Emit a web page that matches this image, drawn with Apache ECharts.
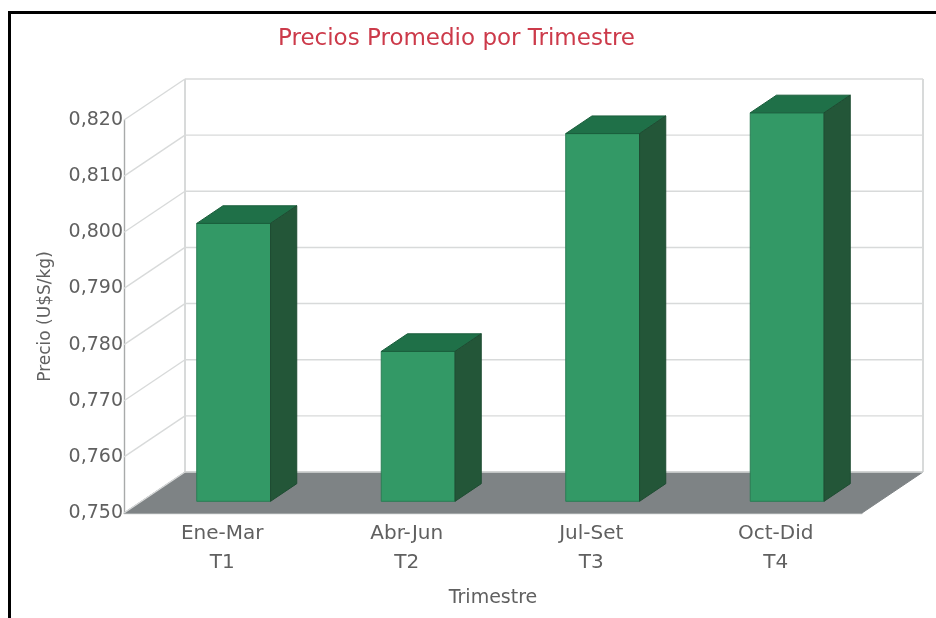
<!DOCTYPE html>
<html>
<head>
<meta charset="utf-8">
<style>html,body{margin:0;padding:0;background:#fff}#chart{width:936px;height:618px}</style>
<script src="https://cdn.jsdelivr.net/npm/echarts@6/dist/echarts.min.js"></script>
</head>
<body>
<div id="chart"></div>
<script>
// Average price per quarter, drawn as pseudo-3D columns on a value axis
const periods = ['Ene-Mar', 'Abr-Jun', 'Jul-Set', 'Oct-Did'];
const quarters = ['T1', 'T2', 'T3', 'T4'];
const prices = [0.7995, 0.7767, 0.8155, 0.8192];
const gridValues = [0.75, 0.76, 0.77, 0.78, 0.79, 0.80, 0.81, 0.82];

// Oblique projection of the chart box depth, in pixels
const DEPTH_X = 61;
const DEPTH_Y = -41;
const BAR_NEAR = 0.285;
const BAR_FAR = 0.715;

const FONT = '"DejaVu Sans", "Liberation Sans", Arial, sans-serif';
const TEXT = '#606060';
const GRID = '#d8dada';

const chart = echarts.init(document.getElementById('chart'), null, { renderer: 'canvas' });

function poly(points, fill, stroke) {
  return {
    type: 'polygon',
    shape: { points },
    style: { fill, stroke: stroke || fill, lineWidth: 1, lineJoin: 'round' }
  };
}
function seg(x1, y1, x2, y2, color) {
  return { type: 'line', shape: { x1, y1, x2, y2 }, style: { stroke: color, lineWidth: 1.4 } };
}

// Side and back wall rules for one value of the axis
function renderWallRule(params, api) {
  const cs = params.coordSys;
  const y = api.coord([0, api.value(1)])[1];
  const left = cs.x, backL = left + DEPTH_X, backR = left + cs.width + DEPTH_X;
  return {
    type: 'group',
    children: [
      seg(left, y, backL, y + DEPTH_Y, GRID),
      seg(backL, y + DEPTH_Y, backR, y + DEPTH_Y, GRID)
    ]
  };
}

// Back wall verticals and the grey floor of the box
function renderBox(params) {
  const cs = params.coordSys;
  const l = cs.x, r = cs.x + cs.width, t = cs.y, b = cs.y + cs.height;
  return {
    type: 'group',
    children: [
      seg(l + DEPTH_X, t + DEPTH_Y, l + DEPTH_X, b + DEPTH_Y, '#c8cacb'),
      seg(r + DEPTH_X, t + DEPTH_Y, r + DEPTH_X, b + DEPTH_Y, '#c8cacb'),
      poly([[l, b], [r, b], [r + DEPTH_X, b + DEPTH_Y], [l + DEPTH_X, b + DEPTH_Y]], '#7e8385')
    ]
  };
}

// One column: front, top and side faces set back into the box depth
function renderColumn(params, api) {
  const top = api.coord([api.value(0), api.value(1)]);
  const base = api.coord([api.value(0), gridValues[0]]);
  const w = api.size([1, 0])[0] * 0.4;
  const nx = DEPTH_X * BAR_NEAR, ny = DEPTH_Y * BAR_NEAR;
  const fx = DEPTH_X * (BAR_FAR - BAR_NEAR), fy = DEPTH_Y * (BAR_FAR - BAR_NEAR);
  const x0 = top[0] - w / 2 + nx, x1 = x0 + w;
  const yT = top[1] + ny, yB = base[1] + ny;
  return {
    type: 'group',
    children: [
      poly([[x0, yB], [x1, yB], [x1, yT], [x0, yT]], '#339966', '#2a7d55'),
      poly([[x0, yT], [x1, yT], [x1 + fx, yT + fy], [x0 + fx, yT + fy]], '#1f7048', '#1a5e3c'),
      poly([[x1, yB], [x1 + fx, yB + fy], [x1 + fx, yT + fy], [x1, yT]], '#235638', '#1e4c32')
    ]
  };
}

chart.setOption({
  animation: false,
  backgroundColor: '#ffffff',
  title: {
    text: 'Precios Promedio por Trimestre',
    left: 273,
    top: 23,
    textStyle: { fontFamily: FONT, fontSize: 23, fontWeight: 'normal', color: '#cc3a4a' }
  },
  grid: { left: 124, right: 74, top: 120, bottom: 105 },
  xAxis: {
    type: 'category',
    data: periods.map((p, i) => p + '\n' + quarters[i]),
    name: 'Trimestre',
    nameLocation: 'middle',
    nameGap: 76,
    nameTextStyle: { fontFamily: FONT, fontSize: 19, color: TEXT },
    axisLine: { lineStyle: { color: '#c4c6c6', width: 1.4 } },
    axisTick: { alignWithLabel: false, length: 5, lineStyle: { color: '#b8baba' } },
    axisLabel: {
      fontFamily: FONT, fontSize: 20, color: TEXT, lineHeight: 29, margin: 6,
      padding: [0, 0, 0, 12]
    },
    splitLine: { show: false }
  },
  yAxis: {
    type: 'value',
    min: 0.75,
    max: 0.82,
    interval: 0.01,
    name: 'Precio (U$S/kg)',
    nameLocation: 'middle',
    nameGap: 70,
    nameTextStyle: { fontFamily: FONT, fontSize: 17, color: TEXT },
    axisLine: { show: true, lineStyle: { color: '#a8aaaa', width: 1.4 } },
    axisTick: { show: false },
    axisLabel: {
      fontFamily: FONT, fontSize: 19, color: TEXT, margin: 1,
      formatter: v => v.toFixed(3).replace('.', ',')
    },
    splitLine: { show: false }
  },
  series: [
    {
      type: 'custom', z: 1, silent: true, clip: false,
      data: [[0, gridValues[0]]],
      renderItem: renderBox
    },
    {
      type: 'custom', z: 2, silent: true, clip: false,
      data: gridValues.map(v => [0, v]),
      renderItem: renderWallRule
    },
    {
      type: 'custom', z: 3, silent: true, clip: false,
      data: prices.map((p, i) => [i, p]),
      encode: { x: 0, y: 1 },
      renderItem: renderColumn
    }
  ],
  graphic: [
    // Black frame round the chart, open at the right and bottom edges
    { type: 'line', shape: { x1: 8, y1: 12.5, x2: 936, y2: 12.5 }, style: { stroke: '#000', lineWidth: 3 }, z: 10 },
    { type: 'line', shape: { x1: 9.5, y1: 11, x2: 9.5, y2: 618 }, style: { stroke: '#000', lineWidth: 3 }, z: 10 }
  ]
});
</script>
</body>
</html>
